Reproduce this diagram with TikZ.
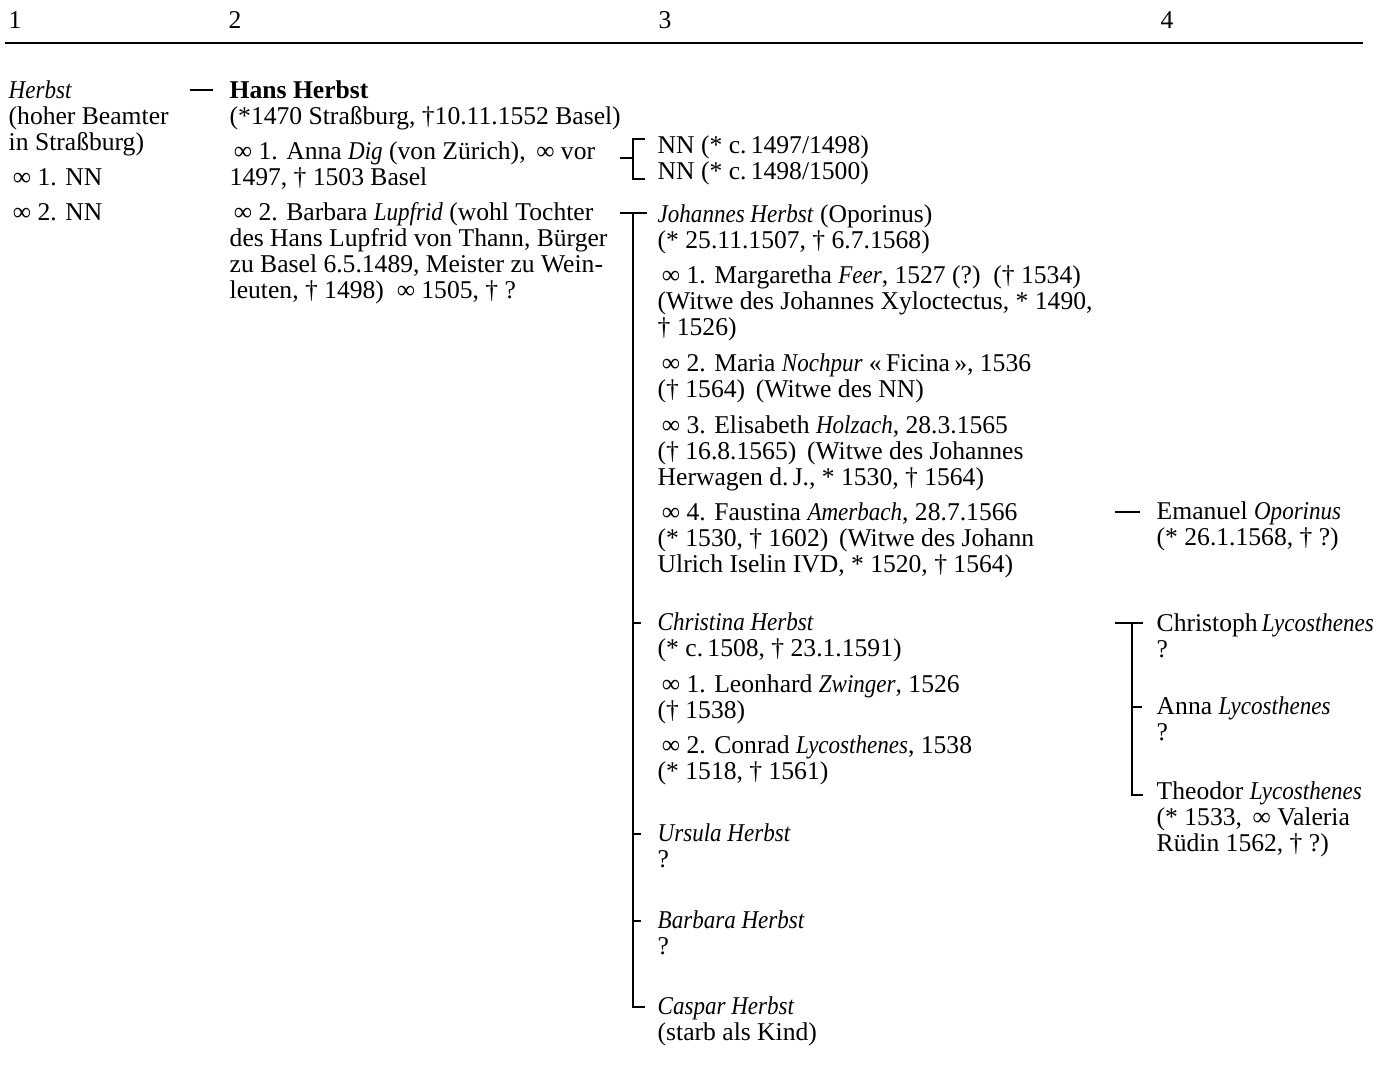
\documentclass[tikz,border=0pt]{standalone}
\usepackage{fontspec}
\setmainfont[ItalicFeatures={FakeStretch=0.9}]{Liberation Serif}
\usetikzlibrary{calc}

% Strut der ersten Zeile: Oberkante 11pt ueber der Grundlinie
\newcommand{\zs}{\rule{0pt}{11pt}}

\begin{document}
\begin{tikzpicture}[x=0.5pt, y=-0.5pt, line width=0.7pt,
		txt/.style={anchor=north west, yshift=11pt, align=left, inner sep=0pt, font=\fontsize{12.8}{13}\selectfont},
		rule/.style={line width=1pt}]
		
		\useasboundingbox (0,0) rectangle (1379,1066);
		
		% --- KOPFZEILE (Generationen) ---
		\node[txt] (g1) at (8,28) {\zs 1};
		\node[txt] (g2) at (228,28) {\zs 2};
		\node[txt] (g3) at (658,28) {\zs 3};
		\node[txt] (g4) at (1160,28) {\zs 4};
		\draw[rule] (5,43) -- (1363,43);
		
		% --- GENERATION 1 ---
		\node[txt] (herbst) at (8,98) {\zs\textit{Herbst}\\(hoher Beamter\\in Straßburg)};
		\node[txt] (herbstA) at (8,185) {\zs\,∞ 1. NN};
		\node[txt] (herbstB) at (8,220) {\zs\,∞ 2. NN};
		
		% --- GENERATION 2 ---
		\node[txt] (hans) at (229,98) {\zs\textbf{Hans Herbst}\\(*1470 Straßburg, †10.11.1552 Basel)};
		\node[txt] (dig) at (229,159) {\zs\,∞ 1. Anna \textit{Dig} (von Zürich), \,∞ vor\\1497, † 1503 Basel};
		\node[txt] (lupfrid) at (229,220) {\zs\,∞ 2. Barbara \textit{Lupfrid} (wohl Tochter\\des Hans Lupfrid von Thann, Bürger\\zu Basel 6.5.1489, Meister zu Wein-\\leuten, † 1498) \ ∞ 1505, † ?};
		
		% --- GENERATION 3 ---
		\node[txt] (nnA) at (657,153) {\zs NN (* c.\,1497/1498)};
		\node[txt] (nnB) at (657,179) {\zs NN (* c.\,1498/1500)};
		
		\node[txt] (joh) at (657,222) {\zs\textit{Johannes Herbst} (Oporinus)\\(* 25.11.1507, † 6.7.1568)};
		\node[txt] (johA) at (657,283) {\zs\,∞ 1. Margaretha \textit{Feer}, 1527 (?) \,(† 1534)\\(Witwe des Johannes Xyloctectus, * 1490,\\† 1526)};
		\node[txt] (johB) at (657,371) {\zs\,∞ 2. Maria \textit{Nochpur} «\,Ficina\,», 1536\\(† 1564) \,(Witwe des NN)};
		\node[txt] (johC) at (657,433) {\zs\,∞ 3. Elisabeth \textit{Holzach}, 28.3.1565\\(† 16.8.1565) \,(Witwe des Johannes\\Herwagen d.\,J., * 1530, † 1564)};
		\node[txt] (johD) at (657,520) {\zs\,∞ 4. Faustina \textit{Amerbach}, 28.7.1566\\(* 1530, † 1602) \,(Witwe des Johann\\Ulrich Iselin IVD, * 1520, † 1564)};
		
		\node[txt] (chr) at (657,630) {\zs\textit{Christina Herbst}\\(* c.\,1508, † 23.1.1591)};
		\node[txt] (chrA) at (657,692) {\zs\,∞ 1. Leonhard \textit{Zwinger}, 1526\\(† 1538)};
		\node[txt] (chrB) at (657,753) {\zs\,∞ 2. Conrad \textit{Lycosthenes}, 1538\\(* 1518, † 1561)};
		
		\node[txt] (urs) at (657,841) {\zs\textit{Ursula Herbst}\\?};
		\node[txt] (bar) at (657,928) {\zs\textit{Barbara Herbst}\\?};
		\node[txt] (cas) at (657,1014) {\zs\textit{Caspar Herbst}\\(starb als Kind)};
		
		% --- GENERATION 4 ---
		\node[txt] (ema) at (1156,519) {\zs Emanuel \textit{Oporinus}\\(* 26.1.1568, † ?)};
		\node[txt] (lycChr) at (1156,631) {\zs Christoph\,\textit{Lycosthenes}\\?};
		\node[txt] (lycAnn) at (1156,714) {\zs Anna \textit{Lycosthenes}\\?};
		\node[txt] (lycThe) at (1156,799) {\zs Theodor \textit{Lycosthenes}\\(* 1533, \,∞ Valeria\\Rüdin 1562, † ?)};
		
		% --- VERBINDUNGEN ---
		% Herbst -> Hans Herbst
		\draw ([xshift=-19.5pt,yshift=-7pt]hans.north west) -- ([xshift=-8pt,yshift=-7pt]hans.north west);
		
		% Anna Dig -> zwei Kinder NN
		\coordinate (nnMid) at ($(nnA.north west)!0.5!(nnB.north west)$);
		\draw ([xshift=-18.5pt,yshift=-7pt]nnMid) -- ([xshift=-12pt,yshift=-7pt]nnMid);
		\draw ([xshift=-6pt,yshift=-4pt]nnA.north west) -| ([xshift=-12pt,yshift=-11pt]nnB.north west) -- ([xshift=-6pt,yshift=-11pt]nnB.north west);
		
		% Barbara Lupfrid -> Kinder
		\draw ([xshift=-18.5pt,yshift=-6.5pt]joh.north west) -- ([xshift=-5pt,yshift=-6.5pt]joh.north west);
		\draw ([xshift=-12pt,yshift=-6.5pt]joh.north west) |- ([xshift=-6pt,yshift=-7.5pt]cas.north west);
		\foreach \kind in {chr,urs,bar}
			\draw ([xshift=-12pt,yshift=-7.5pt]\kind.north west) -- ([xshift=-8pt,yshift=-7.5pt]\kind.north west);
		
		% Faustina Amerbach -> Emanuel
		\draw ([xshift=-20.5pt,yshift=-7.5pt]ema.north west) -- ([xshift=-8pt,yshift=-7.5pt]ema.north west);
		
		% Conrad Lycosthenes -> Kinder
		\draw ([xshift=-20.5pt,yshift=-7pt]lycChr.north west) -- ([xshift=-6.5pt,yshift=-7pt]lycChr.north west);
		\draw ([xshift=-12pt,yshift=-7pt]lycChr.north west) |- ([xshift=-6.5pt,yshift=-9pt]lycThe.north west);
		\draw ([xshift=-12pt,yshift=-7.5pt]lycAnn.north west) -- ([xshift=-7pt,yshift=-7.5pt]lycAnn.north west);
		
	\end{tikzpicture}
\end{document}
